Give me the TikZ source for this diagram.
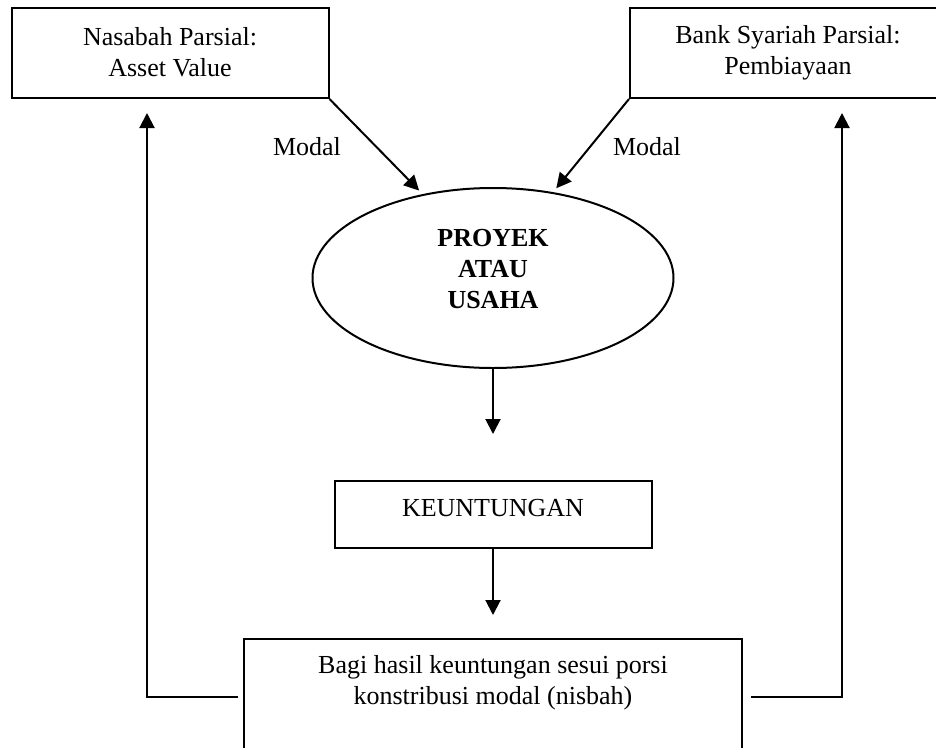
\documentclass[tikz,border=0pt]{standalone}
\usepackage{fontspec}
\setmainfont{Liberation Serif}
\usetikzlibrary{positioning, arrows.meta, shapes.geometric}

\begin{document}
\begin{tikzpicture}[
    x=1pt, y=-1pt,
    box/.style={
        rectangle,
        draw,
        line width=2pt,
        align=center,
        inner sep=0pt,
        font=\fontsize{26}{31}\selectfont
    },
    arrow/.style={
        -{Triangle[length=15pt, width=15pt]},
        line width=2pt
    }
]
\useasboundingbox (0,0) rectangle (936,747);

\node[box, minimum width=317pt, minimum height=90pt] (nasabah) at (170,53)
{Nasabah Parsial:\\Asset Value\\[-28pt]\mbox{}};

\node[box, minimum width=316pt, minimum height=90pt] (bank) at (788,53)
{Bank Syariah Parsial:\\Pembiayaan};

\node[box, ellipse, minimum width=361pt, minimum height=180pt] (proyek) at (493,278)
{\bfseries PROYEK\\\bfseries ATAU\\\bfseries USAHA\\[-12pt]\mbox{}};

\node[box, minimum width=317pt, minimum height=67pt] (keuntungan) at (493,514.5)
{KEUNTUNGAN\\[-17pt]\mbox{}};

\node[box, anchor=north, minimum width=498pt, inner ysep=16pt] (bagi) at (493,638)
{Bagi hasil keuntungan sesui porsi\\konstribusi modal (nisbah)\\ \mbox{}};

\node[font=\fontsize{26}{31}\selectfont] (modalkiri) at (307,147) {Modal};
\node[font=\fontsize{26}{31}\selectfont] (modalkanan) at (647,147) {Modal};

\draw[arrow, shorten >=5pt] (nasabah.south east) -- (proyek.130);
\draw[arrow, shorten >=5pt] (bank.south west) -- (proyek.55);
\draw[arrow, shorten >=46pt] (proyek.south) -- (keuntungan.north);
\draw[arrow, shorten >=23pt] (keuntungan.south) -- (bagi.north);
\draw[arrow, shorten <=5pt, shorten >=14pt] ([yshift=-59pt]bagi.north west) -| ([xshift=-23pt]nasabah.south);
\draw[arrow, shorten <=8pt, shorten >=14pt] ([yshift=-59pt]bagi.north east) -| ([xshift=54pt]bank.south);
\end{tikzpicture}
\end{document}
